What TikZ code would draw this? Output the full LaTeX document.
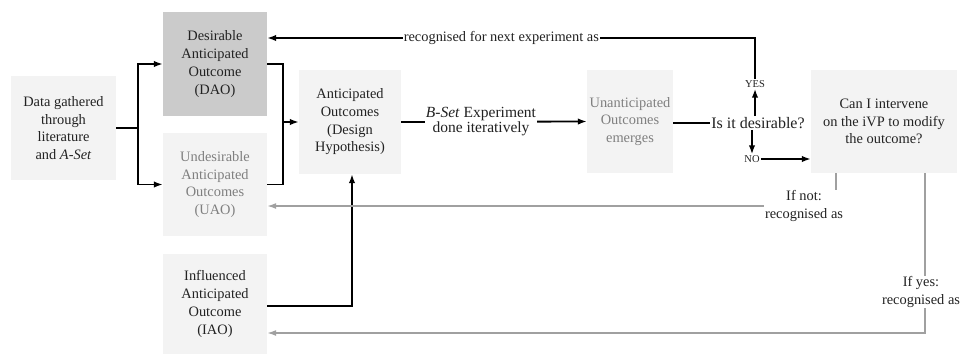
\documentclass[tikz,border=0pt]{standalone}
\usepackage{fontspec}
\setmainfont{Liberation Serif}
\usetikzlibrary{arrows.meta}
\definecolor{boxfill}{HTML}{F3F3F3}
\definecolor{daofill}{HTML}{CBCBCB}
\definecolor{greytext}{HTML}{7F7F7F}
\definecolor{greyline}{HTML}{A0A0A0}
\definecolor{darktext}{HTML}{222222}
\begin{document}
\begin{tikzpicture}[x=1pt,y=-1pt,
  box/.style={fill=boxfill, draw=none, align=center, inner sep=0pt,
    text=darktext, font=\fontsize{14.4}{17.7}\selectfont},
  lab/.style={fill=white, inner sep=1pt, align=center, text=darktext,
    font=\fontsize{14.4}{17.7}\selectfont},
  small/.style={fill=white, inner sep=1pt, text=darktext,
    font=\fontsize{10.5}{12}\selectfont},
  conn/.style={line width=1.8pt, draw=black},
  arr/.style={conn, -{Latex[length=9pt,width=6.5pt]}},
  gconn/.style={line width=1.4pt, draw=greyline},
  garr/.style={gconn, -{Latex[length=9pt,width=6pt]}}
]
\useasboundingbox (0,0) rectangle (962,354);

% boxes
\node[box, minimum width=105pt, minimum height=104pt] (data) at (63.5,128)
  {Data gathered\\through\\literature\\and \textit{A-Set}};
\node[box, fill=daofill, minimum width=104pt, minimum height=104pt] (dao) at (215,64)
  {Desirable\\Anticipated\\Outcome\\(DAO)};
\node[box, text=greytext, minimum width=104pt, minimum height=103pt] (uao) at (215,184.5)
  {Undesirable\\Anticipated\\Outcomes\\(UAO)};
\node[box, minimum width=104pt, minimum height=100pt] (iao) at (215,304)
  {Influenced\\Anticipated\\Outcome\\(IAO)};
\node[box, minimum width=102pt, minimum height=104pt] (ao) at (350,122)
  {Anticipated\\Outcomes\\(Design\\Hypothesis)};
\node[box, text=greytext, minimum width=86pt, minimum height=103pt] (ua) at (630,121.5)
  {Unanticipated\\Outcomes\\emerges};
\node[box, minimum width=146pt, minimum height=103pt] (can) at (884,121.5)
  {Can I intervene\\on the iVP to modify\\the outcome?};

% decision texts
\node[fill=white, inner sep=1pt, text=darktext, font=\fontsize{16}{18}\selectfont] (q) at (758,123) {Is it desirable?};
\node[small] (yes) at (755,84) {YES};
\node[small] (no) at (752,159) {NO};

% helper coordinates
\coordinate (split) at (138,128);
\coordinate (merge) at (283,122);
\coordinate (topc) at (755,38);
\coordinate (notx) at (836,206);
\coordinate (yesx) at (925,333);

% black connectors
\draw[conn] (data.east) -- (split);
\draw[arr] (split) |- (dao.west);
\draw[arr] (split) |- (uao.west);
\draw[conn] (dao.east) -| (merge);
\draw[conn] (uao.east) -| (merge);
\draw[arr] (merge) -- (ao.west);
\draw[arr] (iao.east |- 0,306) -| (ao.south -| 352,0);
\draw[arr] (ao.east) -- node[pos=0.43, fill=white, inner sep=1pt, align=center, text=darktext,
   font=\fontsize{15.5}{15.5}\selectfont] (bset) {\textit{B-Set} Experiment\\done iteratively} (ua.west);
\draw[conn] (ua.east |- q.west) -- (q.west);
\draw[arr] (q.north -| yes) -- (yes.south);
\draw[arr] (q.south -| no) -- (no.north);
\draw[arr] (no.east) -- (can.west |- no);
\draw[arr] (yes.north) -- (topc) -- node[pos=0.52, lab] (rec) {recognised for next experiment as} (dao.east |- topc);

% grey connectors
\draw[garr] (can.south -| notx) -- (notx) -- (uao.east |- notx);
\draw[garr] (can.south -| yesx) -- (yesx) -- (iao.east |- yesx);

% grey-route labels
\node[lab] (ifnot) at (804,206) {If not:\\recognised as};
\node[lab] (ifyes) at (921,292) {If yes:\\recognised as};
\end{tikzpicture}
\end{document}
